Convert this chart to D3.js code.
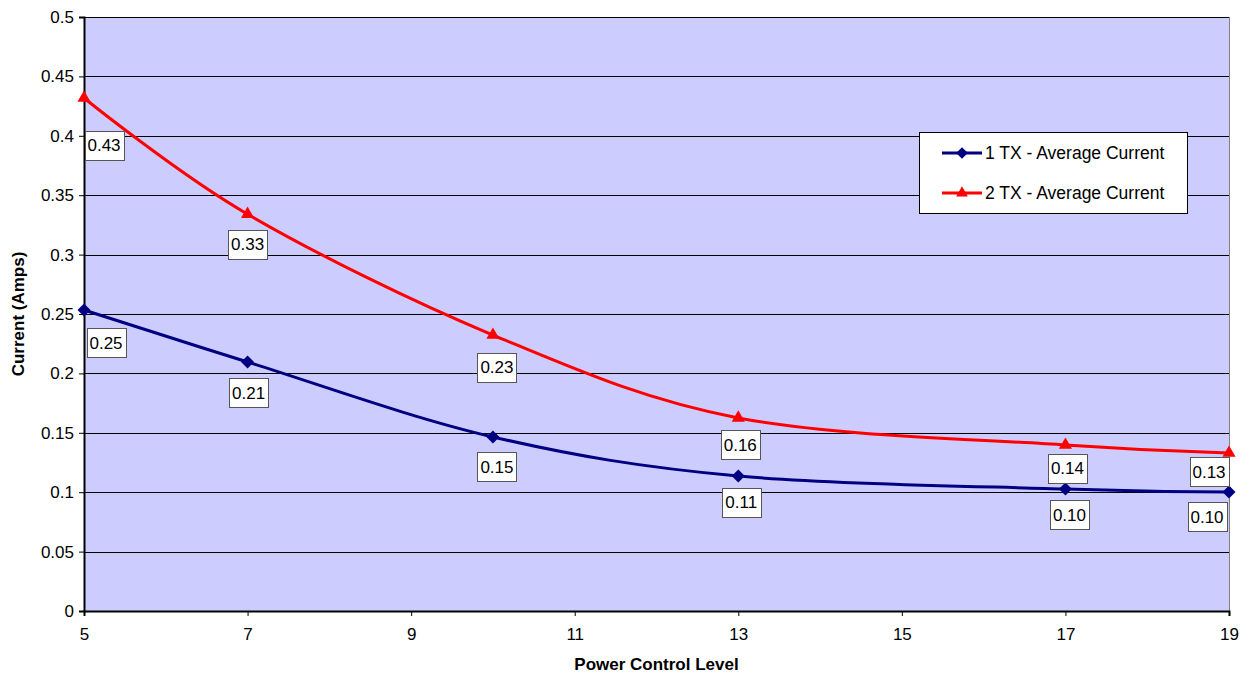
<!DOCTYPE html>
<html><head><meta charset="utf-8">
<script src="https://cdn.jsdelivr.net/npm/d3@7"></script>
<style>
body{margin:0;background:#fff;}
svg{display:block;font-family:"Liberation Sans",Arial,sans-serif;}
</style></head>
<body><svg id="c" width="1252" height="677"></svg>
<script>
const powerLevels = [5, 7, 10, 13, 17, 19];
const tx1Current = [0.2534, 0.2096, 0.1465, 0.1136, 0.1027, 0.1002];
const tx2Current = [0.4318, 0.3340, 0.2323, 0.1625, 0.1397, 0.1330];
const tx1Labels = ["0.25", "0.21", "0.15", "0.11", "0.10", "0.10"];
const tx2Labels = ["0.43", "0.33", "0.23", "0.16", "0.14", "0.13"];
const seriesNames = ["1 TX - Average Current", "2 TX - Average Current"];
const xTicks = [5, 7, 9, 11, 13, 15, 17, 19];
const yTicks = [0, 0.05, 0.1, 0.15, 0.2, 0.25, 0.3, 0.35, 0.4, 0.45, 0.5];
// label placement offsets (layout, px)
const tx1LabelOff = [[22,33],[1,31],[4,30],[3,26],[4,26],[-22,25]];
const tx2LabelOff = [[20,47],[0,30],[4,32],[2,27],[2,23],[-20,19]];

const FONT = "Liberation Sans, Arial, sans-serif";
const svg = d3.select("#c");
const L = 84, R = 1229, T = 17, B = 611;
const x = d3.scaleLinear().domain([5, 19]).range([L, R]);
const y = d3.scaleLinear().domain([0, 0.5]).range([B, T]);

svg.append("rect").attr("x", L).attr("y", T).attr("width", R - L).attr("height", B - T)
  .attr("fill", "#ccccff");

// gridlines
svg.append("g").selectAll("line").data(yTicks.filter(d => d > 0)).join("line")
  .attr("x1", L).attr("x2", R).attr("y1", d => Math.round(y(d)) + 0.5).attr("y2", d => Math.round(y(d)) + 0.5)
  .attr("stroke", "#000").attr("stroke-width", 1);
// right border
svg.append("line").attr("x1", R + 0.5).attr("x2", R + 0.5).attr("y1", T).attr("y2", B)
  .attr("stroke", "#808080").attr("stroke-width", 1);

// axes
const yAxis = d3.axisLeft(y).tickValues(yTicks).tickFormat(d => String(+d.toFixed(2))).tickSize(5).tickPadding(5);
const gy = svg.append("g").attr("transform", `translate(${L},0)`).call(yAxis);
gy.select(".domain").attr("stroke", "#000").attr("stroke-width", 2);
gy.selectAll(".tick line").attr("stroke", "#000");
gy.selectAll(".tick text").attr("font-size", 17).attr("fill", "#000").attr("font-family", FONT);

const xAxis = d3.axisBottom(x).tickValues(xTicks).tickFormat(d3.format("d")).tickSize(5).tickPadding(12);
const gx = svg.append("g").attr("transform", `translate(0,${B})`).call(xAxis);
gx.select(".domain").attr("stroke", "#000").attr("stroke-width", 2);
gx.selectAll(".tick line").attr("stroke", "#000");
gx.selectAll(".tick text").attr("font-size", 17).attr("fill", "#000").attr("font-family", FONT);

// axis titles
svg.append("text").attr("x", (L + R) / 2).attr("y", 670).attr("text-anchor", "middle")
  .attr("font-size", 17).attr("font-weight", "bold").text("Power Control Level");
svg.append("text").attr("transform", `translate(24,${(T + B) / 2}) rotate(-90)`).attr("text-anchor", "middle")
  .attr("font-size", 17).attr("font-weight", "bold").text("Current (Amps)");

const diamond = d3.symbol(d3.symbolSquare, 90);
const series = [
  {vals: tx1Current, labels: tx1Labels, off: tx1LabelOff, color: "#000080", marker: d3.symbolSquare, msize: 85, rot: 45},
  {vals: tx2Current, labels: tx2Labels, off: tx2LabelOff, color: "#ff0000", marker: d3.symbolTriangle, msize: 75, rot: 0}
];
const line = d3.line().x(d => x(d[0])).y(d => y(d[1])).curve(d3.curveCatmullRom.alpha(0));

series.forEach(s => {
  const pts = powerLevels.map((p, i) => [p, s.vals[i]]);
  svg.append("path").datum(pts).attr("d", line).attr("fill", "none")
    .attr("stroke", s.color).attr("stroke-width", 3);
  svg.append("g").selectAll("path").data(pts).join("path")
    .attr("transform", d => `translate(${x(d[0])},${y(d[1])}) rotate(${s.rot})`)
    .attr("d", d3.symbol(s.marker, s.msize)).attr("fill", s.color);
});

// data labels
series.forEach(s => {
  const g = svg.append("g");
  powerLevels.forEach((p, i) => {
    const cx = x(p) + s.off[i][0], cy = y(s.vals[i]) + s.off[i][1];
    const w = 39, h = 29;
    g.append("rect").attr("x", Math.round(cx - w / 2) + 0.5).attr("y", Math.round(cy - h / 2) + 0.5)
      .attr("width", w).attr("height", h).attr("fill", "#fff").attr("stroke", "#555").attr("stroke-width", 1);
    g.append("text").attr("x", cx).attr("y", cy + 6).attr("text-anchor", "middle")
      .attr("font-size", 17).attr("fill", "#000").text(s.labels[i]);
  });
});

// legend
const lg = svg.append("g");
lg.append("rect").attr("x", 919.5).attr("y", 132.5).attr("width", 268).attr("height", 81)
  .attr("fill", "#fff").attr("stroke", "#000").attr("stroke-width", 1);
series.forEach((s, i) => {
  const ly = 153 + i * 40;
  lg.append("line").attr("x1", 942).attr("x2", 982).attr("y1", ly).attr("y2", ly)
    .attr("stroke", s.color).attr("stroke-width", 3);
  lg.append("path").attr("transform", `translate(962,${ly}) rotate(${s.rot})`).attr("d", d3.symbol(s.marker, s.msize * 0.8)).attr("fill", s.color);
  lg.append("text").attr("x", 985).attr("y", ly + 6).attr("font-size", 17.5).attr("fill", "#000").text(seriesNames[i]);
});
</script></body></html>
